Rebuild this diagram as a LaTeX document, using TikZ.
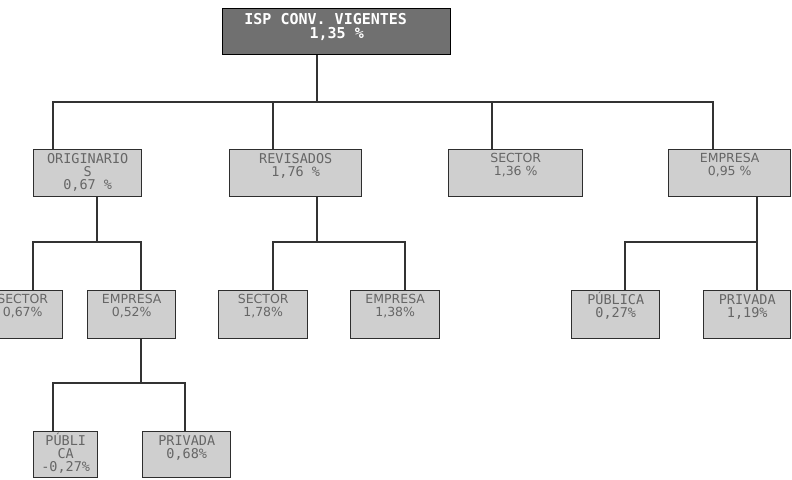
\documentclass[tikz,border=0pt]{standalone}
\usepackage{fontspec}
\setmainfont{DejaVu Sans}
\newfontfamily\monof{DejaVu Sans Mono}

% text of a box, set at its top
\newcommand{\orgtxt}[3]{\parbox[c][#2][t]{#1}{\centering\rule{0pt}{1.05em}#3}}

\tikzset{
  grisbox/.style={draw=black!82, fill=black!19, line width=1.4pt, inner sep=0pt,
    anchor=north west, text=black!60, font=\fontsize{12.5}{13}\selectfont},
  monobox/.style={grisbox, font=\monof\fontsize{13.5}{13}\selectfont},
  ispbox/.style={grisbox, draw=black, fill=black!56, text=white,
    font=\monof\bfseries\fontsize{15}{14.5}\selectfont},
  wire/.style={draw=black!80, line width=1.3pt}
}

\begin{document}
\begin{tikzpicture}[x=1pt, y=-1pt]
\useasboundingbox (0,0) rectangle (792,479);
\clip (0,0) rectangle (792,479);

\node[ispbox] (isp) at (222,8) {\orgtxt{228pt}{46pt}{ISP CONV. VIGENTES\rule{22pt}{0pt}\\1,35 \%}};

\node[monobox] (orig) at (33,149) {\orgtxt{108pt}{47pt}{ORIGINARIO\\S\\0,67 \%}};
\node[monobox] (rev) at (229,149) {\orgtxt{132pt}{47pt}{REVISADOS\\1,76 \%}};
\node[grisbox] (sect) at (448,149) {\orgtxt{134pt}{47pt}{SECTOR\\1,36 \%}};
\node[grisbox] (emp) at (668,149) {\orgtxt{122pt}{47pt}{EMPRESA\\0,95 \%}};

\node[grisbox] (osec) at (-18,290) {\orgtxt{80pt}{48pt}{SECTOR\\0,67\%}};
\node[grisbox] (oemp) at (87,290) {\orgtxt{88pt}{48pt}{EMPRESA\\0,52\%}};
\node[grisbox] (rsec) at (218,290) {\orgtxt{89pt}{48pt}{SECTOR\\1,78\%}};
\node[grisbox] (remp) at (350,290) {\orgtxt{89pt}{48pt}{EMPRESA\\1,38\%}};
\node[monobox] (epub) at (571,290) {\orgtxt{88pt}{48pt}{PÚBLICA\\0,27\%}};
\node[monobox] (epriv) at (703,290) {\orgtxt{87pt}{48pt}{PRIVADA\\1,19\%}};

\node[monobox] (ppub) at (33,431) {\orgtxt{64pt}{46pt}{PÚBLI\\CA\\-0,27\%}};
\node[monobox] (ppriv) at (142,431) {\orgtxt{88pt}{46pt}{PRIVADA\\0,68\%}};

% junctions
\coordinate (t0) at (317,102);
\coordinate (d1) at (53,102);
\coordinate (d2) at (273,102);
\coordinate (d3) at (492,102);
\coordinate (d4) at (713,102);
\coordinate (o0) at (97,242);
\coordinate (o1) at (33,242);
\coordinate (o2) at (141,242);
\coordinate (r0) at (317,242);
\coordinate (r1) at (273,242);
\coordinate (r2) at (405,242);
\coordinate (e0) at (757,242);
\coordinate (e1) at (625,242);
\coordinate (p0) at (141,383);
\coordinate (p1) at (53,383);
\coordinate (p2) at (185,383);

\draw[wire] (isp.south -| t0) -- (t0);
\draw[wire] (orig.north -| d1) -- (d1) -- (d4) -- (emp.north -| d4);
\draw[wire] (rev.north -| d2) -- (d2);
\draw[wire] (sect.north -| d3) -- (d3);

\draw[wire] (orig.south -| o0) -- (o0);
\draw[wire] (osec.north -| o1) -- (o1) -- (o2) -- (oemp.north -| o2);
\draw[wire] (rev.south -| r0) -- (r0);
\draw[wire] (rsec.north -| r1) -- (r1) -- (r2) -- (remp.north -| r2);
\draw[wire] (emp.south -| e0) -- (epriv.north -| e0);
\draw[wire] (epub.north -| e1) -- (e1) -- (e0);

\draw[wire] (oemp.south -| p0) -- (p0);
\draw[wire] (ppub.north -| p1) -- (p1) -- (p2) -- (ppriv.north -| p2);
\end{tikzpicture}
\end{document}
